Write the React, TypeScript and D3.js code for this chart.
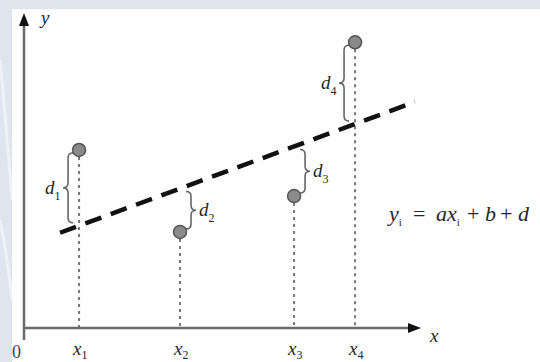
import React from "react";
import * as d3 from "d3";

// observed points (abstract units)
const pointX = [1.39, 3.94, 6.82, 8.36];
const pointY = [5.67, 3.06, 4.2, 9.1];
const subs = ["1", "2", "3", "4"];
// fitted line y = a x + b
const slope = 0.465;
const intercept = 2.61;
const lineRange = [0.91, 9.87];
// which side the brace sits on (-1 left of the drop line, +1 right)
const braceSide = [-1, 1, 1, -1];

const W = 540;
const H = 362;

const brace = (x: number, y0: number, y1: number, dir: number, w = 5) => {
  const ym = (y0 + y1) / 2;
  const e = x - dir * w;
  const t = x + dir * w;
  return `M${e},${y0} Q${x},${y0} ${x},${y0 + w} L${x},${ym - w} Q${x},${ym} ${t},${ym} Q${x},${ym} ${x},${ym + w} L${x},${y1 - w} Q${x},${y1} ${e},${y1}`;
};

const App = () => {
  const x = d3.scaleLinear().domain([0, 10]).range([24, 420]);
  const y = d3.scaleLinear().domain([0, 10]).range([328, 14]);
  const fit = (v: number) => slope * v + intercept;
  const fitLine = d3
    .line<number>()
    .x((d) => x(d))
    .y((d) => y(fit(d)));

  const serif = "'Times New Roman', 'Liberation Serif', 'DejaVu Serif', serif";
  const ink = "#262626";

  return (
    <svg
      width={W}
      height={H}
      style={{ position: "absolute", left: 0, top: 0, fontFamily: serif }}
    >
      {/* pale blue frame like the source scan */}
      <rect x={0} y={0} width={W} height={H} fill="#dfe5ef" />
      <path d="M0,60 Q6,120 12,200" stroke="#eef1f7" strokeWidth={3} fill="none" />
      <path d="M0,220 Q8,260 12,300" stroke="#eef1f7" strokeWidth={3} fill="none" />
      <rect x={12} y={9} width={W - 12} height={H - 9} fill="#fefefe" />

      {/* drop lines */}
      {pointX.map((px, i) => (
        <line
          key={"v" + i}
          x1={x(px)}
          x2={x(px)}
          y1={y(pointY[i])}
          y2={y(0)}
          stroke="#777"
          strokeWidth={2}
          strokeDasharray="3,4"
        />
      ))}

      {/* axes */}
      <line x1={x(0)} x2={x(0)} y1={y(0) + 12} y2={y(10) + 8} stroke="#6a6a6a" strokeWidth={2.5} />
      <path d={`M${x(0) - 5},${y(10) + 12} L${x(0)},${y(10) - 1} L${x(0) + 5},${y(10) + 12} Z`} fill="#111" />
      <line x1={x(0)} x2={x(10) - 8} y1={y(0)} y2={y(0)} stroke="#6a6a6a" strokeWidth={2.5} />
      <path d={`M${x(10) - 12},${y(0) - 5} L${x(10) + 1},${y(0)} L${x(10) - 12},${y(0) + 5} Z`} fill="#111" />

      {/* fitted line */}
      <path
        d={fitLine(lineRange) ?? ""}
        stroke="#111"
        strokeWidth={4.5}
        strokeDasharray="17,10"
        fill="none"
      />

      {/* braces for residuals */}
      {pointX.map((px, i) => {
        const a = y(pointY[i]);
        const b = y(fit(px));
        const y0 = Math.min(a, b) + 3;
        const y1 = Math.max(a, b) - 3;
        const bx = x(px) + braceSide[i] * 11;
        return (
          <path
            key={"b" + i}
            d={brace(bx, y0, y1, braceSide[i])}
            stroke="#666"
            strokeWidth={1.6}
            fill="none"
          />
        );
      })}

      {/* residual labels */}
      {pointX.map((px, i) => {
        const a = y(pointY[i]);
        const b = y(fit(px));
        const ym = (a + b) / 2;
        const lx = braceSide[i] < 0 ? x(px) - 34 : x(px) + 19;
        return (
          <text key={"d" + i} x={lx} y={ym + 6} fontSize={19} fill={ink} fontStyle="italic">
            d
            <tspan fontSize={12} fontStyle="normal" dy={6}>
              {subs[i]}
            </tspan>
          </text>
        );
      })}

      {/* points */}
      {pointX.map((px, i) => (
        <circle
          key={"p" + i}
          cx={x(px)}
          cy={y(pointY[i])}
          r={6.5}
          fill="#8a8a8a"
          stroke="#555"
          strokeWidth={1.5}
        />
      ))}

      {/* tick labels */}
      {pointX.map((px, i) => (
        <text key={"t" + i} x={x(px) - 6} y={355} fontSize={19} fill={ink} fontStyle="italic">
          x
          <tspan fontSize={12} fontStyle="normal" dy={4}>
            {subs[i]}
          </tspan>
        </text>
      ))}
      <text x={12} y={358} fontSize={18} fill="#444">
        0
      </text>
      <text x={x(10) + 10} y={y(0) + 14} fontSize={19} fill={ink} fontStyle="italic">
        x
      </text>
      <text x={x(0) + 17} y={y(10) + 10} fontSize={19} fill={ink} fontStyle="italic">
        y
      </text>

      {/* model equation */}
      <text y={221} fontSize={22} fill={ink} fontStyle="italic">
        <tspan x={389}>y</tspan>
        <tspan fontSize={11} fontStyle="normal" dy={5}>
          i
        </tspan>
        <tspan x={413} dy={-5} fontStyle="normal">=</tspan>
        <tspan x={436}>ax</tspan>
        <tspan fontSize={11} fontStyle="normal" dy={5}>
          i
        </tspan>
        <tspan x={467} dy={-5} fontStyle="normal">+</tspan>
        <tspan x={485}>b</tspan>
        <tspan x={500} fontStyle="normal">+</tspan>
        <tspan x={518}>d</tspan>
      </text>
    </svg>
  );
};

export default App;
